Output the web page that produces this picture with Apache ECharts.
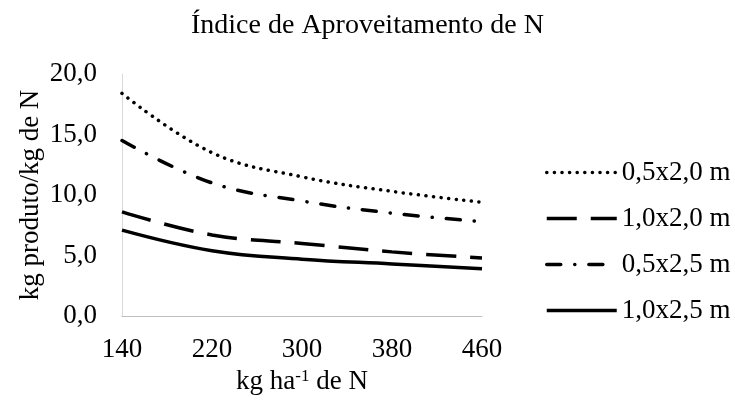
<!DOCTYPE html>
<html>
<head>
<meta charset="utf-8">
<script src="https://cdn.jsdelivr.net/npm/echarts@6/dist/echarts.min.js"></script>
<style>
  html, body { margin: 0; padding: 0; background: #fff; }
  #chart { width: 735px; height: 405px; }
</style>
</head>
<body>
<div id="chart"></div>
<script>
// doses de N (kg/ha)
const doses = [140, 220, 300, 380, 460];
const seriesNames = ["0,5x2,0 m", "1,0x2,0 m", "0,5x2,5 m", "1,0x2,5 m"];
const esp05x20 = [18.4, 13.5, 11.5, 10.3, 9.4];
const esp10x20 = [8.6, 6.7, 6.0, 5.3, 4.8];
const esp05x25 = [14.5, 11.0, 9.5, 8.5, 7.8];
const esp10x25 = [7.1, 5.4, 4.7, 4.3, 3.9];
const yTicks = [0, 5, 10, 15, 20];

const font = "Liberation Serif";
const chart = echarts.init(document.getElementById("chart"));

function pares(vals) {
  return doses.map((d, i) => [d, vals[i]]);
}

const estilos = [
  { width: 3.5, type: [0.1, 7.5], cap: "round" },        // pontilhado
  { width: 3.5, type: [30, 14], cap: "butt" },           // tracejado longo
  { width: 3.5, type: [14, 14, 0.1, 14], cap: "round" }, // traço-ponto
  { width: 3.5, type: "solid", cap: "butt" }             // contínuo
];
const dados = [esp05x20, esp10x20, esp05x25, esp10x25];

let option = {
  animation: false,
  title: {
    text: "Índice de Aproveitamento de N",
    left: "center",
    top: 7,
    textStyle: { fontFamily: font, fontSize: 28, fontWeight: "normal", color: "#000" }
  },
  grid: { left: 122, right: 253, top: 74, bottom: 89 },
  legend: {
    orient: "vertical",
    left: 545,
    top: 159,
    padding: 0,
    itemWidth: 70,
    itemHeight: 14,
    itemGap: 19,
    data: seriesNames,
    itemStyle: { opacity: 0 },
    lineStyle: { width: 3.5 },
    textStyle: { fontFamily: font, fontSize: 27, color: "#000", lineHeight: 27 }
  },
  xAxis: {
    type: "value",
    min: 140,
    max: 460,
    interval: 80,
    splitLine: { show: false },
    axisTick: { show: false },
    axisLine: { lineStyle: { color: "#bfbfbf", width: 1 } },
    axisLabel: { fontFamily: font, fontSize: 27, color: "#000", margin: 20 },
    name: "kg ha{sup|-1} de N",
    nameLocation: "middle",
    nameGap: 45,
    nameTextStyle: {
      fontFamily: font, fontSize: 27, color: "#000",
      rich: {
        sup: { fontFamily: font, fontSize: 17, color: "#000", verticalAlign: "top", padding: [0, 0, 12, 0] }
      }
    }
  },
  yAxis: {
    type: "value",
    min: yTicks[0],
    max: yTicks[yTicks.length - 1],
    interval: 5,
    splitLine: { show: false },
    axisTick: { show: false },
    axisLine: { show: true, lineStyle: { color: "#d9d9d9", width: 1 } },
    axisLabel: {
      fontFamily: font, fontSize: 27, color: "#000", margin: 25,
      formatter: v => v.toFixed(1).replace(".", ",")
    },
    name: "kg produto/kg de N",
    nameLocation: "middle",
    nameGap: 78,
    nameTextStyle: { fontFamily: font, fontSize: 27, color: "#000" }
  },
  series: seriesNames.map((nome, i) => ({
    name: nome,
    type: "line",
    smooth: 0.4,
    symbol: "none",
    data: pares(dados[i]),
    lineStyle: Object.assign({ color: "#000" }, estilos[i]),
    itemStyle: { color: "#000" }
  }))
};

chart.setOption(option);
</script>
</body>
</html>
